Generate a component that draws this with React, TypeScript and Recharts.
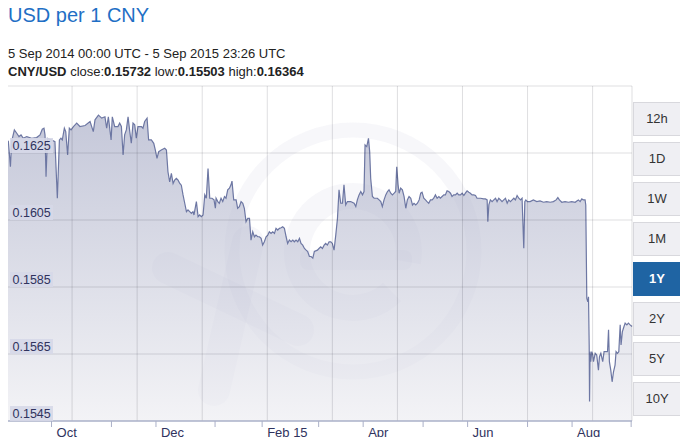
import React from "react";
import { AreaChart, Area, XAxis, YAxis, ReferenceLine } from "recharts";

// days after 5 Sep 2014
const days = [
  0, 0.8, 2.0, 2.7, 4.3, 5.7, 7.0, 8.2, 9.5, 11.5, 14.4, 17.3, 19.3, 20.6, 21.6, 22.2, 22.8, 23.6, 26.1, 28.0,
  29.4, 30.6, 31.5, 32.3, 33.5, 34.3, 35.4, 36.4, 37.4, 38.8, 40.7, 42.6, 45.6, 48.5, 50.4, 51.4, 53.4, 55.3, 57.2, 58.2,
  59.2, 60.8, 61.5, 62.9, 64.8, 65.8, 66.8, 67.8, 68.7, 69.7, 70.7, 71.7, 72.6, 73.6, 74.6, 75.5, 76.5, 78.5, 79.4, 80.4,
  81.8, 82.7, 84.3, 85.7, 86.6, 87.6, 88.6, 90.1, 92.1, 93.1, 94.0, 95.0, 96.0, 97.0, 97.9, 98.9, 99.9, 100.9, 101.8, 102.8,
  103.8, 104.8, 105.7, 106.7, 107.7, 108.6, 109.2, 110.6, 111.6, 112.5, 113.5, 114.5, 115.5, 116.4, 117.4, 118.4, 119.7, 120.9, 121.7, 122.1,
  123.1, 124.0, 125.0, 126.0, 127.0, 127.9, 128.9, 129.9, 130.8, 131.4, 132.4, 133.8, 134.7, 135.7, 136.7, 137.7, 138.6, 139.6, 140.6, 141.6,
  142.5, 143.5, 144.5, 145.4, 146.4, 147.4, 148.4, 149.3, 150.3, 151.3, 152.3, 153.2, 154.2, 155.2, 156.2, 157.1, 158.1, 159.1, 160.1, 161.0,
  162.0, 163.0, 163.9, 164.9, 165.9, 166.9, 167.8, 168.8, 169.8, 170.8, 171.7, 172.7, 173.7, 174.7, 175.6, 176.6, 177.6, 178.6, 179.5, 181.3,
  182.2, 183.2, 184.2, 185.2, 186.1, 187.1, 188.1, 189.1, 190.0, 191.0, 192.0, 193.0, 193.9, 194.9, 195.9, 196.8, 197.8, 198.8, 200.7, 202.7,
  203.7, 204.6, 205.6, 206.6, 207.6, 208.5, 209.1, 210.1, 211.1, 211.8, 212.4, 213.4, 214.4, 216.3, 217.3, 218.3, 219.2, 220.2, 221.2, 222.2,
  223.1, 224.1, 225.1, 226.1, 227.0, 227.6, 228.4, 229.0, 229.9, 230.9, 231.9, 232.9, 233.8, 234.8, 235.8, 236.8, 237.7, 238.7, 239.7, 240.7,
  241.6, 242.4, 243.4, 244.4, 245.3, 246.3, 247.3, 248.3, 249.2, 250.2, 251.2, 252.2, 253.1, 254.1, 255.1, 256.0, 257.0, 258.0, 259.0, 259.9,
  260.9, 261.9, 262.9, 263.8, 264.8, 265.8, 266.8, 267.7, 268.7, 269.7, 270.6, 271.6, 272.6, 273.6, 274.5, 276.5, 278.4, 279.4, 280.4, 280.8,
  281.4, 282.3, 283.3, 284.3, 285.3, 286.2, 287.2, 288.2, 289.1, 290.1, 291.1, 292.1, 293.0, 294.0, 295.0, 296.0, 296.9, 297.9, 298.9, 299.9,
  300.8, 301.8, 302.4, 303.0, 303.9, 305.5, 307.4, 309.4, 311.3, 313.3, 315.2, 317.2, 319.1, 320.7, 321.7, 322.6, 324.0, 325.9, 327.9, 329.8,
  331.8, 332.8, 333.7, 334.7, 335.7, 336.6, 337.6, 338.0, 338.6, 339.2, 339.6, 340.0, 340.2, 340.5, 340.9, 341.5, 342.1, 342.5, 343.5, 344.4,
  345.4, 346.0, 346.8, 347.9, 348.7, 349.9, 350.7, 351.3, 351.8, 352.6, 353.4, 354.2, 355.1, 355.7, 356.5, 357.3, 358.1, 358.6, 359.4, 360.0,
  361.0, 362.0, 362.9, 363.9, 365.0,
];

const rates = [
  0.16289, 0.16284, 0.16209, 0.16284, 0.16319, 0.16309, 0.16299, 0.16304, 0.16294, 0.16299, 0.16294, 0.16296, 0.16304, 0.16321, 0.16324, 0.16304, 0.16179, 0.16294, 0.16289, 0.16284,
  0.16115, 0.16289, 0.16294, 0.16289, 0.16324, 0.16314, 0.16244, 0.16324, 0.16319, 0.16329, 0.16339, 0.16329, 0.16332, 0.16344, 0.16314, 0.16349, 0.16363, 0.16354, 0.16358, 0.16324,
  0.16358, 0.16289, 0.16358, 0.16329, 0.16329, 0.16339, 0.16329, 0.16244, 0.16304, 0.16319, 0.16358, 0.16314, 0.16279, 0.16339, 0.16334, 0.16294, 0.16329, 0.16329, 0.16324, 0.16344,
  0.16354, 0.16289, 0.16289, 0.16279, 0.16259, 0.16234, 0.16254, 0.16259, 0.16264, 0.16259, 0.16194, 0.16164, 0.16189, 0.16159, 0.16169, 0.16174, 0.16169, 0.16159, 0.16154, 0.16125,
  0.161, 0.16075, 0.1608, 0.16075, 0.1607, 0.16075, 0.16065, 0.16105, 0.1606, 0.16065, 0.1606, 0.16065, 0.16125, 0.16115, 0.16204, 0.16115, 0.16115, 0.1611, 0.16085, 0.16115,
  0.16105, 0.161, 0.16115, 0.16105, 0.1612, 0.16115, 0.1614, 0.16145, 0.16155, 0.16166, 0.1611, 0.1611, 0.16085, 0.1609, 0.16105, 0.161, 0.16085, 0.16045, 0.16055, 0.16055,
  0.1599, 0.16015, 0.16, 0.16005, 0.16, 0.16, 0.15995, 0.15975, 0.15985, 0.16, 0.16005, 0.16015, 0.1601, 0.16015, 0.1601, 0.16025, 0.1602, 0.16025, 0.16027, 0.1603,
  0.16025, 0.16, 0.1598, 0.1599, 0.15985, 0.1599, 0.15985, 0.1599, 0.15985, 0.15995, 0.1598, 0.15975, 0.15965, 0.1596, 0.15956, 0.15941, 0.15941, 0.15936, 0.15956, 0.1596,
  0.15965, 0.1597, 0.15965, 0.15975, 0.1598, 0.15975, 0.15985, 0.15985, 0.1598, 0.1596, 0.16005, 0.16055, 0.1614, 0.161, 0.161, 0.16155, 0.16095, 0.16105, 0.16105, 0.161,
  0.1609, 0.1611, 0.16125, 0.16135, 0.16125, 0.16135, 0.16274, 0.16269, 0.16294, 0.16254, 0.16174, 0.1612, 0.16115, 0.16115, 0.1611, 0.16105, 0.1609, 0.1611, 0.16125, 0.16135,
  0.1614, 0.1613, 0.16125, 0.1613, 0.16135, 0.16209, 0.16155, 0.1613, 0.16145, 0.1614, 0.1612, 0.16085, 0.1611, 0.1612, 0.16115, 0.16095, 0.161, 0.16095, 0.161, 0.1611,
  0.1613, 0.16133, 0.16115, 0.1611, 0.16105, 0.161, 0.1611, 0.1611, 0.16115, 0.16125, 0.16115, 0.1612, 0.16115, 0.1612, 0.16125, 0.16125, 0.16137, 0.16135, 0.1613, 0.1612,
  0.16125, 0.16125, 0.1613, 0.16125, 0.16125, 0.1613, 0.16123, 0.1613, 0.16137, 0.16133, 0.1613, 0.16125, 0.16125, 0.16123, 0.16115, 0.16115, 0.16113, 0.16113, 0.1611, 0.16045,
  0.16095, 0.1611, 0.16105, 0.1611, 0.16115, 0.16105, 0.16115, 0.1611, 0.16105, 0.1611, 0.16115, 0.161, 0.1611, 0.16105, 0.1611, 0.16115, 0.1611, 0.16123, 0.16115, 0.1611,
  0.16115, 0.15966, 0.16105, 0.1611, 0.16105, 0.16105, 0.1611, 0.16105, 0.16107, 0.16103, 0.16105, 0.16103, 0.16105, 0.1611, 0.16117, 0.1611, 0.16103, 0.16105, 0.16103, 0.16105,
  0.16103, 0.16107, 0.1611, 0.16105, 0.16113, 0.1611, 0.1611, 0.16095, 0.15816, 0.15806, 0.15821, 0.15677, 0.15508, 0.15657, 0.15627, 0.15657, 0.15647, 0.15627, 0.15652, 0.15647,
  0.15602, 0.15642, 0.15652, 0.15627, 0.15657, 0.15657, 0.15657, 0.15722, 0.15627, 0.15602, 0.15567, 0.15597, 0.15617, 0.15657, 0.15652, 0.15657, 0.15737, 0.15677, 0.15717, 0.15727,
  0.15742, 0.15737, 0.15742, 0.15737, 0.15732,
];

const majorTicks = [26, 87, 149, 208, 269, 330];
const majorLabels = ["Oct", "Dec", "Feb 15", "Apr", "Jun", "Aug"];
const minorTicks = [61, 121.5, 182, 243, 304, 364.5];
const gridDays = [38, 76, 114, 152, 190, 228, 266, 304, 342, 365];
const yTicks = [0.1545, 0.1565, 0.1585, 0.1605, 0.1625, 0.1645];
const ranges = ["12h", "1D", "1W", "1M", "1Y", "2Y", "5Y", "10Y"];
const activeRange = "1Y";

const data = days.map((day, i) => ({ day, rate: rates[i] }));

const FONT = "'Liberation Sans', Arial, sans-serif";
const LABEL = "#30335e";
const AXIS = "#aab0c8";
const GRID = "rgba(0,0,20,0.13)";
const PLOT_LEFT = 7;

function XTick({ x, y, payload }: any) {
  const idx = majorTicks.indexOf(payload.value);
  return (
    <g>
      <line x1={x} x2={x} y1={y} y2={y + 6} stroke={AXIS} />
      {idx >= 0 && (
        <text x={x + 5} y={y + 16} fontSize={13} fill={LABEL} fontFamily={FONT}>
          {majorLabels[idx]}
        </text>
      )}
    </g>
  );
}

function YTick({ y, payload }: any) {
  if (payload.value === yTicks[yTicks.length - 1]) return <g />;
  return (
    <g>
      <rect x={PLOT_LEFT + 3} y={y - 15} width={43} height={15} fill="rgba(214,216,232,0.9)" />
      <text x={PLOT_LEFT + 5.5} y={y - 3.5} fontSize={12.5} fill={LABEL} fontFamily={FONT}>
        {payload.value.toFixed(4)}
      </text>
    </g>
  );
}

function Watermark() {
  const c = "rgba(120,125,165,0.06)";
  return (
    <svg width={688} height={445} style={{ position: "absolute", left: 0, top: 0 }}>
      <circle cx={353} cy={251} r={121} fill="none" stroke={c} strokeWidth={15} />
      <path d="M 408 262 A 56 56 0 1 0 392 292" fill="none" stroke={c} strokeWidth={26} />
      <rect x={300} y={250} width={112} height={20} rx={8} fill={c} />
      <line x1={168} y1={268} x2={298} y2={330} stroke={c} strokeWidth={32} strokeLinecap="round" />
      <line x1={248} y1={242} x2={214} y2={390} stroke={c} strokeWidth={32} strokeLinecap="round" />
    </svg>
  );
}

export default function App() {
  return (
    <div
      style={{
        position: "relative",
        width: 688,
        height: 445,
        margin: -8,
        background: "#fff",
        overflow: "hidden",
        fontFamily: FONT,
      }}
    >
      <div style={{ position: "absolute", left: 8, top: 5, fontSize: 20, lineHeight: "20px", color: "#1f6fc5" }}>
        USD per 1 CNY
      </div>
      <div style={{ position: "absolute", left: 8, top: 46, fontSize: 13, lineHeight: "15px", color: "#222" }}>
        5 Sep 2014 00:00 UTC - 5 Sep 2015 23:26 UTC
      </div>
      <div style={{ position: "absolute", left: 8, top: 64, fontSize: 13, lineHeight: "15px", color: "#222" }}>
        <b>CNY/USD</b> close:<b>0.15732</b> low:<b>0.15503</b> high:<b>0.16364</b>
      </div>

      <Watermark />

      <div style={{ position: "absolute", left: 0, top: 0 }}>
        <AreaChart width={688} height={445} data={data} margin={{ top: 86, right: 56, bottom: 0, left: 6 }}>
          <defs>
            <linearGradient id="rateFill" x1="0" y1="0" x2="0" y2="1">
              <stop offset="0%" stopColor="#9ea3c0" stopOpacity={0.6} />
              <stop offset="100%" stopColor="#ebebf0" stopOpacity={0.6} />
            </linearGradient>
          </defs>
          <XAxis
            dataKey="day"
            type="number"
            domain={[0, 365]}
            ticks={[...majorTicks, ...minorTicks]}
            tick={<XTick />}
            tickLine={false}
            tickSize={0}
            tickMargin={0}
            height={24}
            interval={0}
            axisLine={{ stroke: AXIS, strokeWidth: 1.5 }}
          />
          <YAxis
            type="number"
            domain={[0.1545, 0.1645]}
            ticks={yTicks}
            width={1}
            tick={<YTick />}
            tickLine={false}
            interval={0}
            axisLine={{ stroke: AXIS }}
          />
          <Area
            type="linear"
            dataKey="rate"
            stroke="#6d77a3"
            strokeWidth={1.2}
            fill="url(#rateFill)"
            fillOpacity={1}
            dot={false}
            activeDot={false}
            isAnimationActive={false}
          />
          {yTicks.slice(1).map((t) => (
            <ReferenceLine key={`h${t}`} y={t} stroke={GRID} />
          ))}
          {gridDays.map((d) => (
            <ReferenceLine key={`v${d}`} x={d} stroke={GRID} />
          ))}
        </AreaChart>
      </div>

      {ranges.map((r, i) => {
        const active = r === activeRange;
        return (
          <div
            key={r}
            style={{
              position: "absolute",
              left: 633,
              top: 102 + i * 40,
              width: 48,
              height: 34,
              boxSizing: "border-box",
              border: `1px solid ${active ? "#1f64a3" : "#d8d8dd"}`,
              background: active ? "#1f64a3" : "#efeff3",
              color: active ? "#fff" : "#333",
              fontWeight: active ? "bold" : "normal",
              fontSize: 13,
              lineHeight: "32px",
              textAlign: "center",
            }}
          >
            {r}
          </div>
        );
      })}
    </div>
  );
}
